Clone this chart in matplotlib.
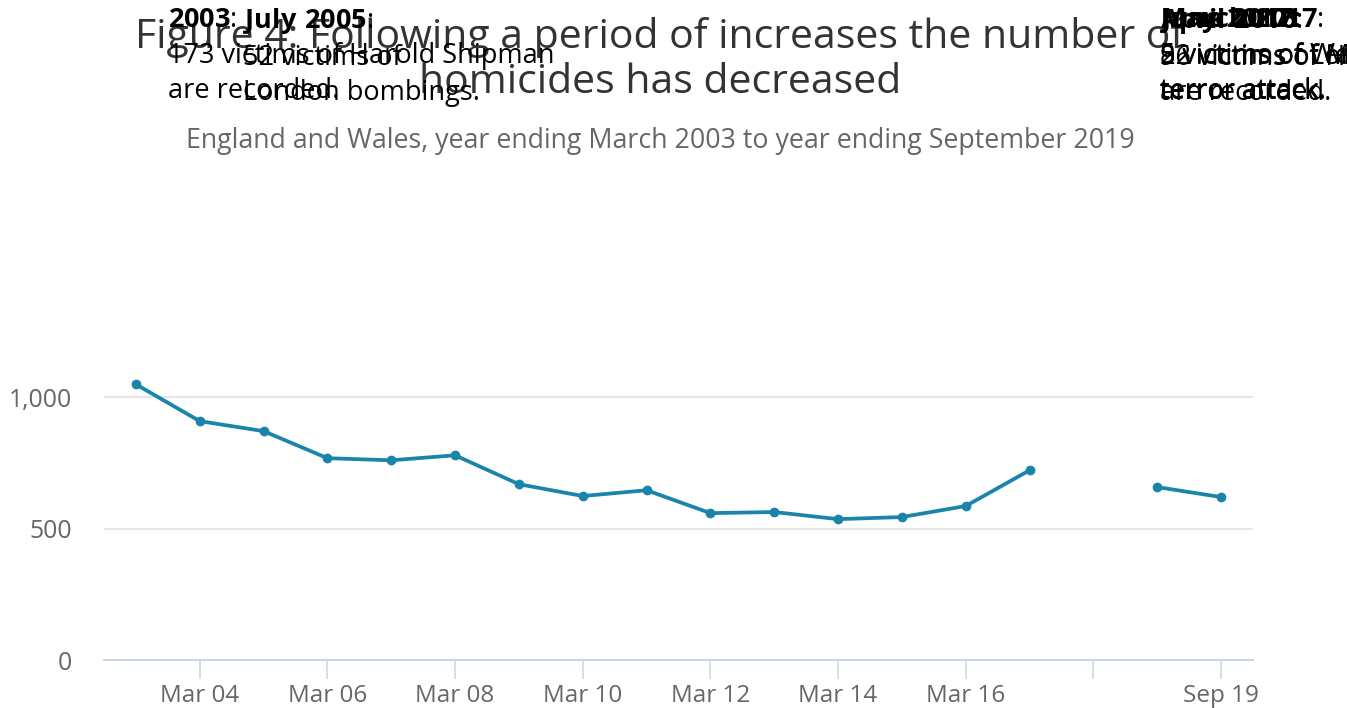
import matplotlib
matplotlib.use("Agg")
import matplotlib.pyplot as plt
import numpy as np

plt.rcParams['font.family'] = ['Open Sans', 'DejaVu Sans']
plt.rcParams['mathtext.fontset'] = 'custom'
plt.rcParams['mathtext.rm'] = 'Open Sans'
plt.rcParams['mathtext.bf'] = 'Open Sans:bold'

categories = ["Mar 03", "Mar 04", "Mar 05", "Mar 06", "Mar 07", "Mar 08", "Mar 09",
              "Mar 10", "Mar 11", "Mar 12", "Mar 13", "Mar 14", "Mar 15", "Mar 16",
              "Mar 17", "Mar 18", "Mar 19", "Sep 19"]
homicides = [1049, 909, 871, 768, 760, 779, 669, 624, 646, 559, 563, 536, 544, 586,
             722, np.nan, 658, 620]
tick_labels = ["Mar 04", "Mar 06", "Mar 08", "Mar 10", "Mar 12", "Mar 14", "Mar 16", "", "Sep 19"]
yticks = [0, 500, 1000]

title = "Figure 4: Following a period of increases the number of\nhomicides has decreased"
subtitle = "England and Wales, year ending March 2003 to year ending September 2019"

W, H = 1347, 708
fig = plt.figure(figsize=(W / 100, H / 100), dpi=100)
ax = fig.add_axes([104 / W, (H - 660) / H, 1149 / W, 473 / H])

x = np.arange(len(categories))
ax.plot(x, homicides, color="#1a84ab", lw=2.7, marker="o", ms=6, zorder=3)

ax.set_xlim(-0.5, len(categories) - 0.5)
ax.set_ylim(0, 1800)
ax.set_yticks(yticks)
ax.set_yticklabels([f"{v:,}" for v in yticks])
ax.set_xticks(x[1::2])
ax.set_xticklabels(tick_labels)
ax.grid(axis="y", color="#e6e6e6", lw=1.5)
ax.set_axisbelow(True)
for s in ["top", "right", "left"]:
    ax.spines[s].set_visible(False)
ax.spines["bottom"].set_color("#ccd6eb")
ax.spines["bottom"].set_linewidth(1.5)
ax.tick_params(axis="x", length=14, width=1.2, color="#ccd6eb", labelsize=17.5,
               labelcolor="#666666", pad=3)
ax.tick_params(axis="y", length=0, labelsize=17.8, labelcolor="#666666", pad=23)

fig.text(0.49, 1 - 60 / H, title, ha="center", va="center", fontsize=29.5,
         color="#333333", linespacing=1.18)
fig.text(0.49, 1 - 141 / H, subtitle, ha="center", va="center", fontsize=19.3,
         color="#666666")

ann_kw = dict(ha="left", va="top", fontsize=19.5, color="black", linespacing=1.36)
fig.text(168 / W, 1 - 6 / H, "$\\mathbf{2003}$:\n173 victims of Harold Shipman\nare recorded.", **ann_kw)
fig.text(243 / W, 1 - 6 / H, "$\\mathbf{July\\ 2005}$:\n52 victims of\nLondon bombings.", **ann_kw)
fig.text(1160 / W, 1 - 6 / H, "$\\mathbf{April\\ 2016}$:\n96 victims of Hillsborough\nare recorded.", **ann_kw)
fig.text(1160 / W, 1 - 6 / H, "$\\mathbf{March\\ 2017}$:\n5 victims of Westminster\nterror attack.", **ann_kw)
fig.text(1160 / W, 1 - 6 / H, "$\\mathbf{May\\ 2017}$:\n22 victims of Manchester\nterror attack.", **ann_kw)
fig.text(1160 / W, 1 - 6 / H, "$\\mathbf{June\\ 2017}$:\n8 victims of London Bridge\nterror attack.", **ann_kw)

fig.savefig("out.png", dpi=100, facecolor="white")
